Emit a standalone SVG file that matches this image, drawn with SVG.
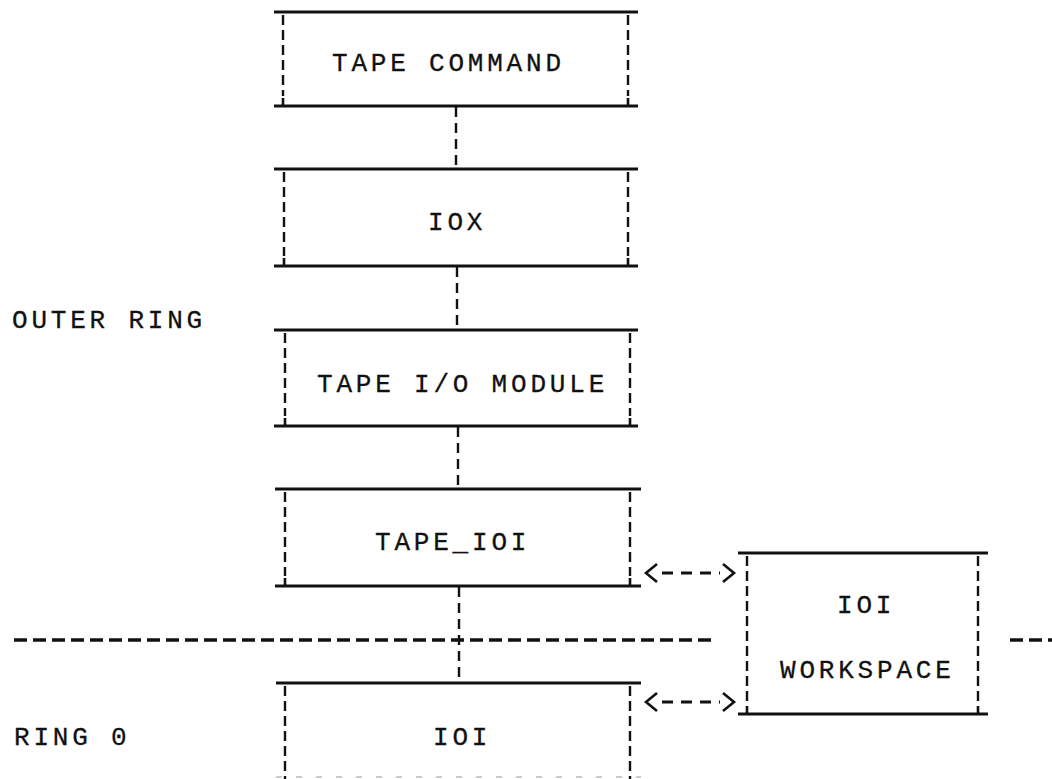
<svg xmlns="http://www.w3.org/2000/svg" width="1052" height="779" viewBox="0 0 1052 779">
  <style>
    .edge { stroke: #111; stroke-width: 3; fill: none; }
    .side { stroke: #111; stroke-width: 2.4; stroke-dasharray: 10 5; fill: none; }
    .tick { stroke: #111; stroke-width: 2.6; fill: none; }
    .link { stroke: #111; stroke-width: 2.4; stroke-dasharray: 10 6; fill: none; }
    .ring { stroke: #111; stroke-width: 3.5; stroke-dasharray: 13 6; fill: none; }
    .arrow { stroke: #111; stroke-width: 2.6; fill: none; }
    .arrow-dash { stroke: #111; stroke-width: 2.8; stroke-dasharray: 11 8; fill: none; }
    text { font-family: "Liberation Mono", "DejaVu Sans Mono", monospace; font-size: 26px; letter-spacing: 3.8px; fill: #111; stroke: #111; stroke-width: 0.3; }
  </style>
  <rect width="1052" height="779" fill="#fff"/>

  <!-- ring boundary -->
  <g id="ring-boundary">
    <line class="ring" x1="14" y1="640" x2="716" y2="640"/>
    <line class="ring" x1="1010" y1="640" x2="1052" y2="640"/>
  </g>

  <!-- side labels -->
  <g id="label-outer-ring"><text x="12" y="328">OUTER RING</text></g>
  <g id="label-ring-0"><text x="14" y="745">RING 0</text></g>

  <!-- connectors -->
  <g id="connectors">
    <line class="link" x1="456" y1="107" x2="456" y2="169"/>
    <line class="link" x1="457" y1="267" x2="457" y2="329"/>
    <line class="link" x1="458" y1="427" x2="458" y2="489"/>
    <line class="link" x1="459" y1="587" x2="459" y2="682"/>
    <!-- TAPE_IOI <-> IOI WORKSPACE -->
    <path class="arrow" d="M657,564 L646,573 L657,582"/>
    <line class="arrow-dash" x1="662" y1="573" x2="720" y2="573"/>
    <path class="arrow" d="M723,564 L734,573 L723,582"/>
    <!-- IOI <-> IOI WORKSPACE -->
    <path class="arrow" d="M657,693 L646,702 L657,711"/>
    <line class="arrow-dash" x1="662" y1="702" x2="720" y2="702"/>
    <path class="arrow" d="M723,693 L734,702 L723,711"/>
  </g>

  <g id="tape-command">
    <line class="edge" x1="274" y1="12" x2="638" y2="12"/>
    <line class="edge" x1="274" y1="106" x2="638" y2="106"/>
    <line class="side" x1="283" y1="15" x2="283" y2="96"/>
    <line class="side" x1="628" y1="15" x2="628" y2="96"/>
    <line class="tick" x1="283" y1="98" x2="283" y2="106"/>
    <line class="tick" x1="628" y1="98" x2="628" y2="106"/>
    <text x="332" y="71">TAPE COMMAND</text>
  </g>

  <g id="iox">
    <line class="edge" x1="274" y1="169" x2="638" y2="169"/>
    <line class="edge" x1="274" y1="266" x2="638" y2="266"/>
    <line class="side" x1="284" y1="172" x2="284" y2="256"/>
    <line class="side" x1="628" y1="172" x2="628" y2="256"/>
    <line class="tick" x1="284" y1="258" x2="284" y2="266"/>
    <line class="tick" x1="628" y1="258" x2="628" y2="266"/>
    <text x="428" y="230">IOX</text>
  </g>

  <g id="tape-io-module">
    <line class="edge" x1="274" y1="330" x2="638" y2="330"/>
    <line class="edge" x1="274" y1="426" x2="638" y2="426"/>
    <line class="side" x1="285" y1="333" x2="285" y2="416"/>
    <line class="side" x1="630" y1="333" x2="630" y2="416"/>
    <line class="tick" x1="285" y1="418" x2="285" y2="426"/>
    <line class="tick" x1="630" y1="418" x2="630" y2="426"/>
    <text x="317" y="392">TAPE I/O MODULE</text>
  </g>

  <g id="tape-ioi">
    <line class="edge" x1="275" y1="489" x2="641" y2="489"/>
    <line class="edge" x1="275" y1="586" x2="641" y2="586"/>
    <line class="side" x1="285" y1="492" x2="285" y2="576"/>
    <line class="side" x1="630" y1="492" x2="630" y2="576"/>
    <line class="tick" x1="285" y1="578" x2="285" y2="586"/>
    <line class="tick" x1="630" y1="578" x2="630" y2="586"/>
    <text x="375" y="550">TAPE_IOI</text>
  </g>

  <g id="ioi">
    <line class="edge" x1="276" y1="683" x2="641" y2="683"/>
    <line class="side" x1="285" y1="686" x2="285" y2="779"/>
    <line class="side" x1="630" y1="686" x2="630" y2="779"/>
    <line x1="276" y1="777" x2="641" y2="777" stroke="#bbb" stroke-width="1.5" stroke-dasharray="6 14"/>
    <text x="433" y="745">IOI</text>
  </g>

  <g id="ioi-workspace">
    <line class="edge" x1="738" y1="553" x2="988" y2="553"/>
    <line class="edge" x1="738" y1="714" x2="988" y2="714"/>
    <line class="side" x1="747" y1="556" x2="747" y2="704"/>
    <line class="side" x1="978" y1="556" x2="978" y2="704"/>
    <line class="tick" x1="747" y1="706" x2="747" y2="714"/>
    <line class="tick" x1="978" y1="706" x2="978" y2="714"/>
    <text x="837" y="613">IOI</text>
    <text x="780" y="678">WORKSPACE</text>
  </g>
</svg>
